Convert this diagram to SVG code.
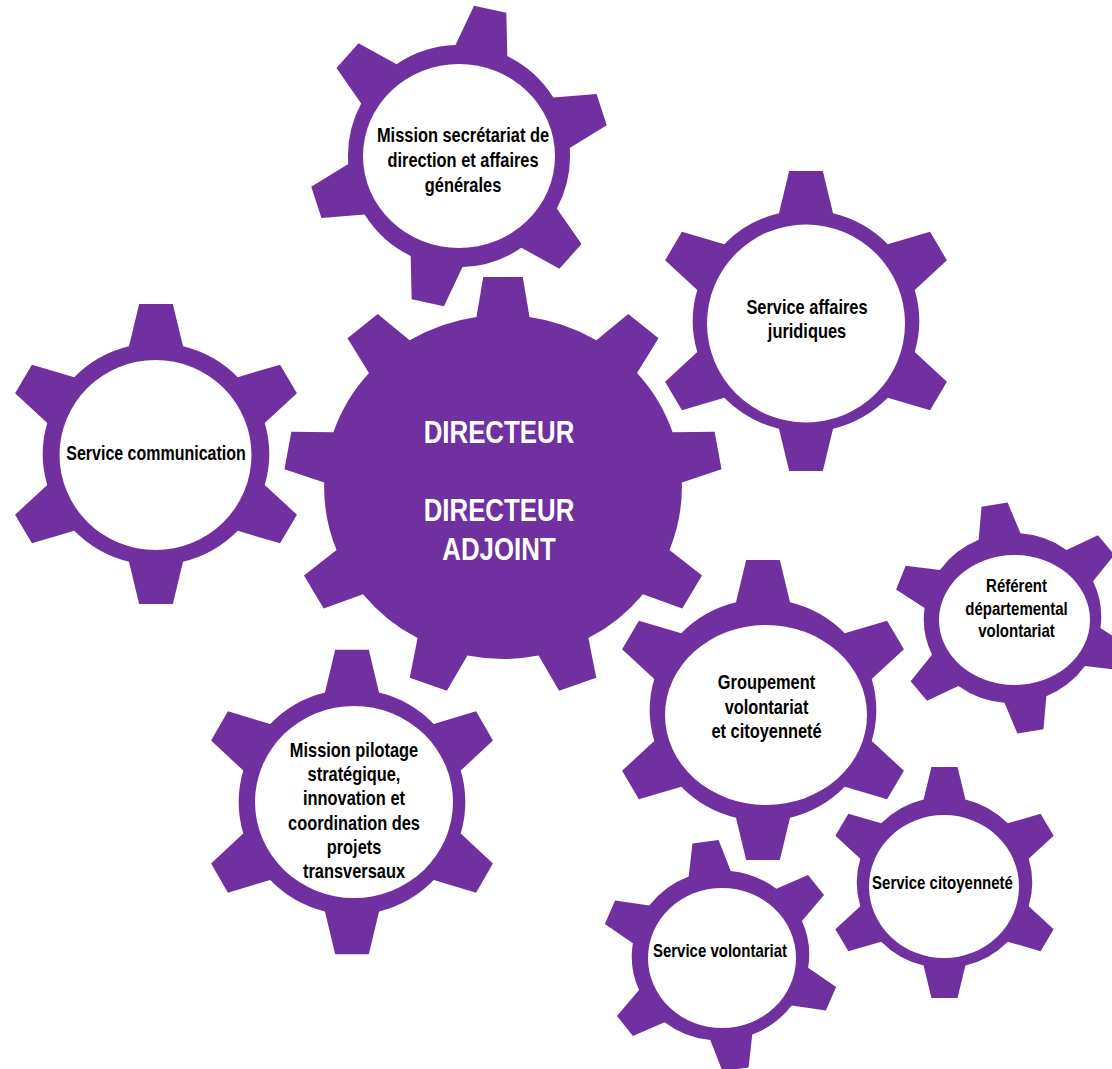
<svg xmlns="http://www.w3.org/2000/svg" xmlns:xlink="http://www.w3.org/1999/xlink" width="1112" height="1069" viewBox="0 0 1112 1069">
<style>
.gear{fill:#7030A0;}
.hole{fill:#FFFFFF;}
.lbl{font-family:"Liberation Sans",Arial,sans-serif;font-weight:bold;font-size:20px;fill:#000000;text-anchor:middle;}
.md{font-size:19.5px;}
.sm{font-size:18.3px;}
.big{font-family:"Liberation Sans",Arial,sans-serif;font-weight:bold;font-size:31.5px;fill:#FFFFFF;text-anchor:middle;}
</style>
<defs>
<path id="gear6" d="M -26.5,-107.8 L -16.5,-150 L 16.5,-150 L 26.5,-107.8 A 111 111 0 0 1 80.11,-76.85 L 121.65,-89.29 L 138.15,-60.71 L 106.61,-30.95 A 111 111 0 0 1 106.61,30.95 L 138.15,60.71 L 121.65,89.29 L 80.11,76.85 A 111 111 0 0 1 26.5,107.8 L 16.5,150 L -16.5,150 L -26.5,107.8 A 111 111 0 0 1 -80.11,76.85 L -121.65,89.29 L -138.15,60.71 L -106.61,30.95 A 111 111 0 0 1 -106.61,-30.95 L -138.15,-60.71 L -121.65,-89.29 L -80.11,-76.85 A 111 111 0 0 1 -26.5,-107.8 Z"/>
<path id="gear9" d="M -25.5,-170.1 L -19,-210 L 19,-210 L 25.5,-170.1 A 172 172 0 0 1 89.81,-146.69 L 120.44,-173.07 L 149.54,-148.65 L 128.87,-113.91 A 172 172 0 0 1 163.08,-54.64 L 203.51,-55.17 L 210.11,-17.75 L 171.94,-4.42 A 172 172 0 0 1 160.06,62.97 L 191.37,88.55 L 172.37,121.45 L 134.56,107.13 A 172 172 0 0 1 82.14,151.12 L 89.67,190.84 L 53.97,203.84 L 34.22,168.56 A 172 172 0 0 1 -34.22,168.56 L -53.97,203.84 L -89.67,190.84 L -82.14,151.12 A 172 172 0 0 1 -134.56,107.13 L -172.37,121.45 L -191.37,88.55 L -160.06,62.97 A 172 172 0 0 1 -171.94,-4.42 L -210.11,-17.75 L -203.51,-55.17 L -163.08,-54.64 A 172 172 0 0 1 -128.87,-113.91 L -149.54,-148.65 L -120.44,-173.07 L -89.81,-146.69 A 172 172 0 0 1 -25.5,-170.1 Z"/>
</defs>

<g id="directeur">
<use href="#gear9" xlink:href="#gear9" class="gear" transform="translate(503,487) scale(1.04,1)"/>
<g transform="translate(499,0) scale(0.82,1)">
<text class="big" x="0" y="443">DIRECTEUR</text>
<text class="big" x="0" y="521.5">DIRECTEUR</text>
<text class="big" x="0" y="560">ADJOINT</text>
</g>
</g>

<g id="secretariat">
<use href="#gear6" xlink:href="#gear6" class="gear" transform="translate(459,156) rotate(12)"/>
<ellipse class="hole" cx="459" cy="156" rx="96" ry="92"/>
<g transform="translate(463,0) scale(0.82,1)">
<text class="lbl" x="0" y="141.7">Mission secrétariat de</text>
<text class="lbl" x="0" y="167">direction et affaires</text>
<text class="lbl" x="0" y="192.3">générales</text>
</g>
</g>

<g id="communication">
<use href="#gear6" xlink:href="#gear6" class="gear" transform="translate(156,454) scale(1.02,1)"/>
<ellipse class="hole" cx="155.5" cy="455" rx="96" ry="95"/>
<g transform="translate(156,0) scale(0.82,1)">
<text class="lbl md" x="0" y="460">Service communication</text>
</g>
</g>

<g id="juridiques">
<use href="#gear6" xlink:href="#gear6" class="gear" transform="translate(806,321) scale(1.02,1)"/>
<ellipse class="hole" cx="806" cy="323.5" rx="99" ry="99"/>
<g transform="translate(807,0) scale(0.82,1)">
<text class="lbl" x="0" y="314.3">Service affaires</text>
<text class="lbl" x="0" y="338.3">juridiques</text>
</g>
</g>

<g id="pilotage">
<use href="#gear6" xlink:href="#gear6" class="gear" transform="translate(352,802) scale(1.02,1.015)"/>
<ellipse class="hole" cx="354" cy="802" rx="99" ry="96"/>
<g transform="translate(354,0) scale(0.82,1)">
<text class="lbl" x="0" y="756.7">Mission pilotage</text>
<text class="lbl" x="0" y="781">stratégique,</text>
<text class="lbl" x="0" y="805.5">innovation et</text>
<text class="lbl" x="0" y="829.8">coordination des</text>
<text class="lbl" x="0" y="854">projets</text>
<text class="lbl" x="0" y="878.3">transversaux</text>
</g>
</g>

<g id="groupement">
<use href="#gear6" xlink:href="#gear6" class="gear" transform="translate(763,710) scale(1.02,1)"/>
<ellipse class="hole" cx="766" cy="715" rx="101" ry="90"/>
<g transform="translate(766.5,0) scale(0.82,1)">
<text class="lbl" x="0" y="689.3">Groupement</text>
<text class="lbl" x="0" y="714">volontariat</text>
<text class="lbl" x="0" y="738.3">et citoyenneté</text>
</g>
</g>

<g id="referent">
<use href="#gear6" xlink:href="#gear6" class="gear" transform="translate(1012.5,618) rotate(-9) scale(0.8,0.765)"/>
<ellipse class="hole" cx="1014.5" cy="620" rx="75.5" ry="65"/>
<g transform="translate(1016.5,0) scale(0.82,1)">
<text class="lbl sm" x="0" y="592.3">Référent</text>
<text class="lbl sm" x="0" y="615">départemental</text>
<text class="lbl sm" x="0" y="636.7">volontariat</text>
</g>
</g>

<g id="citoyennete">
<use href="#gear6" xlink:href="#gear6" class="gear" transform="translate(944.5,882.5) scale(0.79,0.77)"/>
<ellipse class="hole" cx="944" cy="886.5" rx="75" ry="71.5"/>
<g transform="translate(942.5,0) scale(0.82,1)">
<text class="lbl sm" x="0" y="889.3">Service citoyenneté</text>
</g>
</g>

<g id="volontariat">
<use href="#gear6" xlink:href="#gear6" class="gear" transform="translate(720.5,955.5) rotate(-7.5) scale(0.8,0.765)"/>
<ellipse class="hole" cx="722" cy="958" rx="74" ry="70"/>
<g transform="translate(720,0) scale(0.82,1)">
<text class="lbl sm" x="0" y="956.7">Service volontariat</text>
</g>
</g>

<g id="connectors"></g>
</svg>
